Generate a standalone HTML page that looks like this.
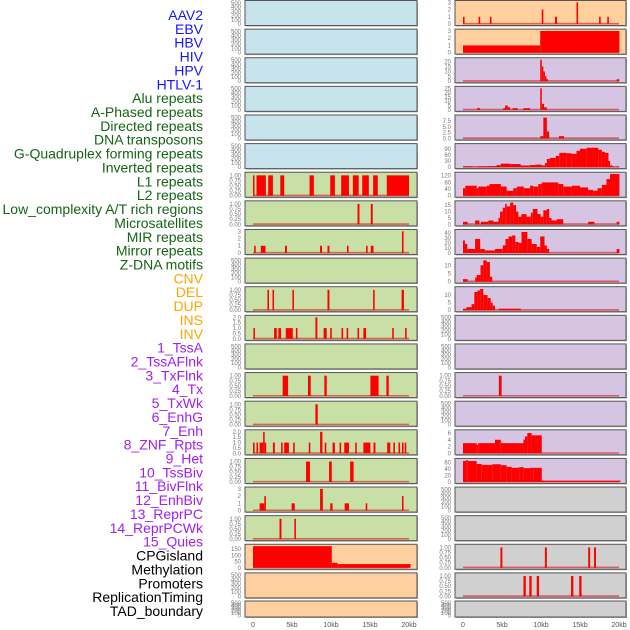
<!DOCTYPE html>
<html><head><meta charset="utf-8"><style>
html,body{margin:0;padding:0;background:#fff;width:630px;height:630px;overflow:hidden}
svg{display:block;font-family:"Liberation Sans",sans-serif}
</style></head><body>
<svg id="chart" width="630" height="630" viewBox="0 0 630 630" xmlns="http://www.w3.org/2000/svg"></svg>
<script>
// ---------- data ----------
const trackLabels = ["AAV2","EBV","HBV","HIV","HPV","HTLV-1","Alu repeats","A-Phased repeats","Directed repeats","DNA transposons","G-Quadruplex forming repeats","Inverted repeats","L1 repeats","L2 repeats","Low_complexity A/T rich regions","Microsatellites","MIR repeats","Mirror repeats","Z-DNA motifs","CNV","DEL","DUP","INS","INV","1_TssA","2_TssAFlnk","3_TxFlnk","4_Tx","5_TxWk","6_EnhG","7_Enh","8_ZNF_Rpts","9_Het","10_TssBiv","11_BivFlnk","12_EnhBiv","13_ReprPC","14_ReprPCWk","15_Quies","CPGisland","Methylation","Promoters","ReplicationTiming","TAD_boundary"];
const labelGroups = [6,13,5,15,5];
const xTicks = [0,5,10,15,20];
const xTickLabels = ["0","5kb","10kb","15kb","20kb"];

// segments: [start_kb, end_kb, value]
const left7 = [[0,0.15,1],[0.45,1.65,1],[1.95,2.55,1],[3.5,4.0,1],[7.25,7.8,1],[9.9,10.5,1],[11.3,12.3,1],[12.8,13.55,1],[14.0,14.85,1],[15.4,16.0,1],[17.15,20,1]];
const left8 = [[13.4,13.65,1],[15.1,15.35,1]];
const left9 = [[0.15,0.35,1],[1.0,1.6,1],[4.1,4.35,1],[8.6,8.85,1],[9.55,9.8,1],[12.05,12.25,1],[14.5,14.7,1],[15.1,15.45,1],[19.1,19.3,3]];
const left11 = [[1.85,2.05,1],[2.5,2.7,1],[5.05,5.25,1],[9.55,9.8,1],[15.4,15.6,1],[19.05,19.35,1]];
const left12 = [[0.05,0.25,1],[2.7,3.05,1],[3.25,3.6,1],[4.2,5.1,1],[5.5,5.7,1],[9.05,9.45,1],[9.9,10.1,1],[11.35,11.55,1],[12.0,12.2,1],[13.4,13.6,1],[14.15,14.5,1],[17.85,18.05,1],[19.5,19.7,1],[8.0,8.25,2]];
const left14 = [[3.8,4.5,1],[7.05,7.4,1],[9.15,9.45,1],[15.05,16.1,1],[17.1,17.4,1]];
const left15 = [[8.0,8.3,1]];
const left16 = [[0,0.2,1],[0.45,0.65,1],[0.85,1.3,1],[1.3,1.5,2],[1.5,1.65,1],[2.55,2.8,1],[3.6,3.8,1],[4.0,4.6,1],[5.15,5.35,1],[7.15,7.35,1],[8.6,8.9,2],[9.2,9.4,1],[10.2,10.5,1],[11.1,11.3,1],[11.7,12.3,1],[13.1,13.3,1],[14.15,15.05,1],[15.45,15.7,1],[17.2,17.6,1],[18.0,18.2,1],[18.65,18.85,1],[19.1,19.3,1],[19.45,19.65,1]];
const left17 = [[6.8,7.3,1],[9.75,10.1,1],[12.45,12.9,1]];
const left18 = [[0.85,1.45,1],[1.45,1.65,2],[4.95,5.35,1],[8.6,8.95,3],[9.9,10.2,1],[11.75,12.3,1],[14.45,14.65,1],[19.1,19.3,2]];
const left19 = [[3.4,3.65,1],[5.3,5.5,1]];
const left20 = [[0,10.1,175],[10.1,10.85,40],[10.85,20.2,30]];

const right1 = [[0,0.2,1],[2.0,2.2,1],[3.45,3.65,1],[10.1,10.3,2],[11.8,12.05,1],[14.55,14.75,3],[17.45,17.65,1],[18.5,18.7,1]];
const right2 = [[0,9.9,1],[9.9,20.05,3]];
const right3 = [[9.9,10.1,22],[10.1,10.3,15],[10.3,10.5,10],[10.5,10.7,5],[10.7,10.9,2],[19.7,20.05,2]];
const right4 = [[1.8,2.2,2],[5.15,5.4,2],[5.4,5.75,5],[5.75,6.05,3],[6.35,7.0,2],[7.75,8.6,2],[9.9,10.1,25],[10.1,10.4,7],[10.4,10.75,3]];
const right5 = [[9.9,10.3,1],[10.3,10.75,9],[10.75,11.05,3],[12.3,12.95,1]];
const right6 = [[0,1.25,3],[1.8,3.25,3],[3.25,4.3,5],[4.3,4.85,10],[4.85,6.05,17],[6.05,7.4,15],[7.4,8.6,8],[8.6,9.25,10],[9.25,10.1,12],[10.1,10.5,8],[10.5,10.75,20],[10.75,11.15,40],[11.15,11.9,45],[11.9,12.35,55],[12.35,13.3,70],[13.3,13.95,68],[13.95,14.55,65],[14.55,15.0,80],[15.0,15.85,90],[15.85,17.35,95],[17.35,17.8,85],[17.8,18.2,75],[18.2,18.65,70],[18.65,18.85,30],[18.85,19.2,8],[19.7,20.05,3]];
const right7 = [[0,0.3,45],[0.3,1.75,60],[1.75,1.95,45],[1.95,3.05,55],[3.05,3.4,60],[3.4,4.85,70],[4.85,5.6,55],[5.6,6.45,30],[6.45,6.9,45],[6.9,7.8,55],[7.8,8.6,45],[8.6,9.0,60],[9.0,9.65,55],[9.65,10.1,70],[10.1,12.2,80],[12.2,12.85,70],[12.85,13.95,55],[13.95,15.0,60],[15.0,16.05,50],[16.05,16.7,35],[16.7,17.25,30],[17.25,17.8,45],[17.8,18.4,65],[18.4,18.85,100],[18.85,20.05,130]];
const right8 = [[0,0.6,2],[1.55,2.1,3],[2.3,3.25,2],[3.25,3.9,3],[3.9,4.55,2],[4.55,4.75,5],[4.75,5.1,10],[5.1,5.4,13],[5.4,5.6,16],[5.6,6.05,14],[6.05,6.45,17],[6.45,6.8,15],[6.8,7.1,10],[7.1,7.5,6],[7.5,8.15,8],[8.15,8.7,6],[8.7,8.95,9],[8.95,9.55,12],[9.55,9.95,8],[9.95,10.3,6],[10.3,10.75,11],[10.75,11.05,12],[11.05,11.35,5],[11.35,12.0,3],[12.0,12.85,4],[16.05,16.85,2],[19.7,20.05,2]];
const right9 = [[0,0.25,25],[0.25,0.55,18],[0.55,1.55,8],[1.55,2.2,28],[2.2,2.8,8],[2.8,4.1,5],[4.1,5.1,8],[5.1,5.45,15],[5.45,5.85,28],[5.85,6.3,33],[6.3,6.7,35],[6.7,7.15,22],[7.15,7.5,20],[7.5,8.25,42],[8.25,8.8,28],[8.8,9.45,18],[9.45,9.9,12],[9.9,10.45,33],[10.45,10.75,15],[10.75,11.05,8],[19.7,20.05,8]];
const right10 = [[0,0.6,1.5],[1.55,1.75,2.5],[1.75,2.25,4],[2.25,2.6,10],[2.6,3.05,13],[3.05,3.45,12],[3.45,3.75,3]];
const right11 = [[0,0.45,1],[0.45,1.1,2],[1.1,1.45,4],[1.45,1.85,12],[1.85,2.2,13],[2.2,2.6,14],[2.6,3.15,10],[3.15,3.55,8],[3.55,3.8,5],[3.8,4.1,3],[4.6,7.4,1]];
const right14 = [[4.6,4.95,1]];
const right16 = [[0,1.75,3],[1.75,1.95,2.5],[1.95,4.1,3],[4.1,4.85,4],[4.85,7.75,3],[7.75,7.95,4],[7.95,8.25,5],[8.25,8.8,6],[8.8,10.1,5.3]];
const right17 = [[0,0.4,65],[0.4,0.6,68],[0.6,1.75,65],[1.75,2.4,56],[2.4,3.75,53],[3.75,4.85,55],[4.85,5.6,52],[5.6,6.25,47],[6.25,7.2,44],[7.2,7.8,46],[7.8,8.6,43],[8.6,9.0,44],[9.0,10.1,44],[10.1,20.2,4]];
const right20 = [[4.8,5.05,1],[10.5,10.75,1],[16.05,16.3,1],[16.8,17.05,1]];
const right21 = [[7.75,8.05,1],[8.5,8.8,1],[9.45,9.75,1],[13.85,14.15,1],[14.9,15.2,1]];

// tick sets
const ticksEmpty = [0,100,200,300,400,500];
const ticksBinary = [0,0.25,0.5,0.75,1];
const ticks3 = [0,1,2,3];
const ticks2 = [0,0.5,1,1.5,2];

// ---------- layout ----------
const NS = "http://www.w3.org/2000/svg";
const svg = document.getElementById('chart');
function el(tag, attrs, parent){const e=document.createElementNS(NS,tag);for(const k in attrs)e.setAttribute(k,attrs[k]);(parent||svg).appendChild(e);return e;}

const BG = {blue:"#c7e3eb",green:"#c8e0a6",orange:"#ffd09e",purple:"#d5c4e2",grey:"#d0d0d0"};
const cols = [{px0:245,px1:417,x0:253,x1:409},{px0:455,px1:626,x0:463,x1:619}];
function rowTop(r){return r<21?0.5+r*28.62:601;}
function rowH(r){return r<21?25:16;}

const panels = [
 // left column
 [0,0,"blue",null,ticksEmpty,520,0],[0,1,"blue",null,ticksEmpty,520,0],[0,2,"blue",null,ticksEmpty,520,0],
 [0,3,"blue",null,ticksEmpty,520,0],[0,4,"blue",null,ticksEmpty,520,0],[0,5,"blue",null,ticksEmpty,520,0],
 [0,6,"green",left7,ticksBinary,1.08,2],[0,7,"green",left8,ticksBinary,1.08,2],[0,8,"green",left9,ticks3,3.05,0],
 [0,9,"green",null,ticksEmpty,520,0],[0,10,"green",left11,ticksBinary,1.08,2],[0,11,"green",left12,ticks2,2.05,1],
 [0,12,"green",null,ticksEmpty,520,0],[0,13,"green",left14,ticksBinary,1.08,2],[0,14,"green",left15,ticksBinary,1.08,2],
 [0,15,"green",left16,ticks2,2.05,1],[0,16,"green",left17,ticksBinary,1.08,2],[0,17,"green",left18,ticks3,3.05,0],
 [0,18,"green",left19,ticksBinary,1.08,2],[0,19,"orange",left20,[0,50,100,150],178,0],[0,20,"orange",null,ticksEmpty,520,0],
 [0,21,"orange",null,ticksEmpty,520,0],
 // right column
 [1,0,"orange",right1,ticks3,3.05,0],[1,1,"orange",right2,ticks3,3.05,0],[1,2,"purple",right3,[0,5,10,15,20],22.5,0],
 [1,3,"purple",right4,[0,5,10,15,20,25],25.5,0],[1,4,"purple",right5,[0,2.5,5,7.5],9.5,1],[1,5,"purple",right6,[0,30,60,90],108,0],
 [1,6,"purple",right7,[0,40,80,120],132,0],[1,7,"purple",right8,[0,5,10,15],17.2,0],[1,8,"purple",right9,[0,10,20,30,40],44,0],
 [1,9,"purple",right10,[0,5,10],13.5,0],[1,10,"purple",right11,[0,5,10],14.5,0],[1,11,"purple",null,ticksEmpty,520,0],
 [1,12,"purple",null,ticksEmpty,520,0],[1,13,"purple",right14,ticksBinary,1.08,2],[1,14,"purple",null,ticksEmpty,520,0],
 [1,15,"purple",right16,[0,2,4,6],6.5,0],[1,16,"purple",right17,[0,20,40,60],68.5,0],[1,17,"grey",null,ticksEmpty,520,0],
 [1,18,"grey",null,ticksEmpty,520,0],[1,19,"grey",right20,ticksBinary,1.08,2],[1,20,"grey",right21,ticksBinary,1.08,2],
 [1,21,"grey",null,ticksEmpty,520,0]
];

// ---------- labels ----------
const groupColors = ["#1515ff","#146414","#ffa500","#a020f0","#000000"];
let li=0;
labelGroups.forEach((n,g)=>{
  for(let i=0;i<n;i++,li++){
    const t=el('text',{x:203,y:20+li*13.86,'text-anchor':'end','font-size':14,fill:groupColors[g]});
    
    
    t.textContent=trackLabels[li];
  }
});

// ---------- panels ----------
panels.forEach(p=>{
  const [c,r,bg,data,ticks,ymax,dec]=p;
  const col=cols[c], top=rowTop(r), h=rowH(r), bottom=top+h;
  const xs=kb=>col.x0+(kb/20)*(col.x1-col.x0);
  const ys=v=>bottom-1.5-(v/ymax)*(h-3);
  const g=el('g',{});
  
  
  el('rect',{x:col.px0+1,y:top+1,width:col.px1-col.px0,height:h,fill:'#aaa'},g);
  el('rect',{x:col.px0,y:top,width:col.px1-col.px0,height:h,fill:BG[bg],stroke:'#555','stroke-width':1},g);
  ticks.forEach(tv=>{
    const t=el('text',{x:col.px0-4,y:ys(tv)+2,'text-anchor':'end','font-size':6,fill:'#777'},g);
    
    
    t.textContent=dec?tv.toFixed(dec):String(tv);
  });
  if(data){
    el('line',{x1:xs(0),x2:xs(20),y1:ys(0)-0.3,y2:ys(0)-0.3,stroke:'rgba(220,0,0,0.55)','stroke-width':1.6},g);
    data.forEach(d=>{
      const x1=xs(d[0]),x2=xs(d[1]),y=ys(d[2]);
      const b=el('rect',{x:x1,y:y,width:Math.max(1.5,x2-x1),height:Math.max(0.5,ys(0)-y),fill:'#ff0000'},g);
      
      
    });
  }
});

// ---------- x axes ----------
cols.forEach((col,c)=>{
  xTicks.forEach((kb,i)=>{
    const x=col.x0+(kb/20)*(col.x1-col.x0);
    const t=el('text',{x:x,y:627,'text-anchor':'middle','font-size':7,fill:'#555'});
    
    
    t.textContent=xTickLabels[i];
  });
});
</script>
</body></html>
